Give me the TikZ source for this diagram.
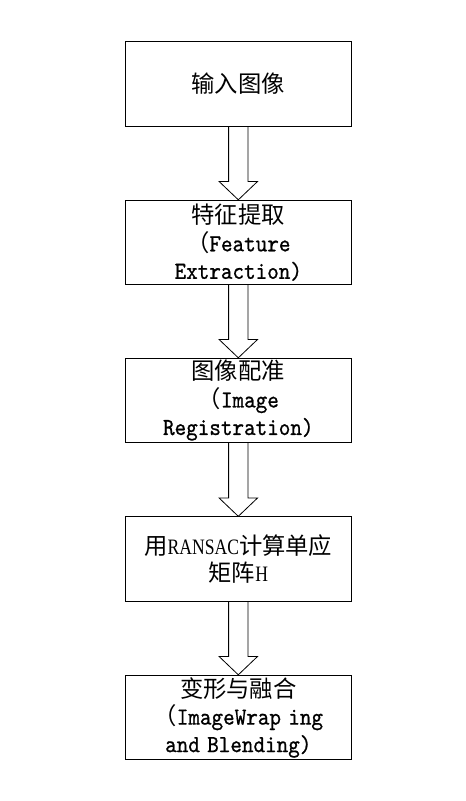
\documentclass[tikz,border=0pt]{standalone}
\usepackage{fontspec}
\newfontfamily\cjk[Scale=1.06]{Noto Sans CJK SC}
\newfontfamily\narrowserif[FakeStretch=0.8]{Liberation Serif}
\newfontfamily\monofam[FakeStretch=0.9,FakeBold=0.8]{lmmono10-regular.otf}
\newcommand\monotext{\fontsize{24.5}{27.5}\selectfont\monofam}
\usetikzlibrary{calc}
\tikzset{
  stepbox/.style={draw=black, line width=0.9pt, minimum width=226.7pt, minimum height=84.5pt,
    text width=226.7pt, inner sep=0pt, align=center, font=\fontsize{22}{27.5}\selectfont},
  flow/.style={draw=black, line width=0.8pt, line join=miter}
}
\newcommand\myflowarrow[2]{%
  \draw[flow] ($(#1.south)+(-9.7,0)$) -- ($(#2.north)+(-9.7,-18.3)$)
    -- ($(#2.north)+(-19.2,-18.3)$) -- (#2.north) -- ($(#2.north)+(19.2,-18.3)$)
    -- ($(#2.north)+(9.7,-18.3)$) -- ($(#1.south)+(9.7,0)$);}
\begin{document}
\begin{tikzpicture}[x=1pt,y=-1pt]
\useasboundingbox[fill=white] (0,0) rectangle (466,801);
\node[stepbox] (b1) at (238.3,84) {\cjk 输入图像};
\node[stepbox] (b2) at (238.3,242.5) {{\cjk 特征提取}\\{\cjk （}{\monotext Feature}\\{\monotext Extraction)}};
\node[stepbox] (b3) at (238.3,400.5) {{\cjk 图像配准}\\{\cjk （}{\monotext Image}\\{\monotext Registration)}};
\node[stepbox] (b4) at (238.3,559) {{\cjk 用}{\narrowserif RANSAC}{\cjk 计算单应}\\{\cjk 矩阵}{\narrowserif H}};
\node[stepbox] (b5) at (238.3,717.5) {{\cjk 变形与融合}\\{\cjk （}{\monotext ImageWrap ing}\\{\monotext and Blending)}};
\myflowarrow{b1}{b2}
\myflowarrow{b2}{b3}
\myflowarrow{b3}{b4}
\myflowarrow{b4}{b5}
\end{tikzpicture}
\end{document}
